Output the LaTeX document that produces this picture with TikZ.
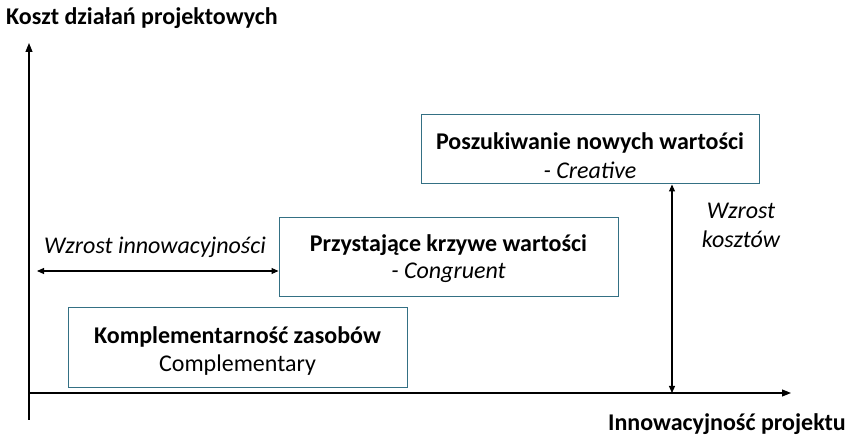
\documentclass[tikz,border=0pt]{standalone}
\usepackage{fontspec}
\setmainfont{Carlito}
\usetikzlibrary{arrows.meta}
\definecolor{boxc}{RGB}{52,112,132}
\begin{document}
\begin{tikzpicture}[x=1pt,y=-1pt,
  every node/.style={inner sep=0pt,font=\fontsize{24}{28}\selectfont},
  valbox/.style={draw=boxc,line width=1pt},
  axis/.style={line width=1.1pt,-{Triangle[length=9pt,width=7pt]}},
  dbl/.style={line width=1.1pt,{Triangle[length=7pt,width=6pt]}-{Triangle[length=7pt,width=6pt]}}]
\useasboundingbox (0,0) rectangle (852,438);
% axes
\coordinate (o) at (29,393);
\coordinate (ybot) at (29,420);
\coordinate (ytop) at (29,43);
\coordinate (xend) at (791,393);
\draw[axis] (ybot) -- (ytop);
\draw[axis] (o) -- (xend);
\node[anchor=base west,font=\fontsize{24}{28}\selectfont\bfseries] (ylab) at (6,25) {Koszt działań projektowych};
\node[anchor=base east,font=\fontsize{24}{28}\selectfont\bfseries] (xlab) at (846,431) {Innowacyjność projektu};
% boxes
\node[valbox,minimum width=338pt,minimum height=69pt] (cre) at (590,149.5) {};
\node[anchor=base,font=\fontsize{24}{28}\selectfont\bfseries] (cre1) at (cre.center |- 0,150) {Poszukiwanie nowych wartości};
\node[anchor=base] (cre2) at (cre.center |- 0,179) {\itshape - Creative};
\node[valbox,minimum width=339pt,minimum height=79pt] (con) at (448.5,257.5) {};
\node[anchor=base,font=\fontsize{24}{28}\selectfont\bfseries] (con1) at (con.center |- 0,252) {Przystające krzywe wartości};
\node[anchor=base] (con2) at (con.center |- 0,279) {\itshape - Congruent};
\node[valbox,minimum width=339pt,minimum height=80pt] (com) at (237.5,348) {};
\node[anchor=base,font=\fontsize{24}{28}\selectfont\bfseries] (com1) at (com.center |- 0,344) {Komplementarność zasobów};
\node[anchor=base] (com2) at (com.center |- 0,372) {Complementary};
% arrows
\coordinate (hl) at (37,271);
\draw[dbl] (hl) -- (con.west |- hl);
\node[anchor=base] (hlab) at (155,254) {\itshape Wzrost innowacyjności};
\coordinate (vtop) at (672,184);
\draw[dbl] (cre.south -| vtop) -- (vtop |- o);
\node[anchor=base] (vlab1) at (741,219) {\itshape Wzrost};
\node[anchor=base] (vlab2) at (741,248) {\itshape kosztów};
\end{tikzpicture}
\end{document}
